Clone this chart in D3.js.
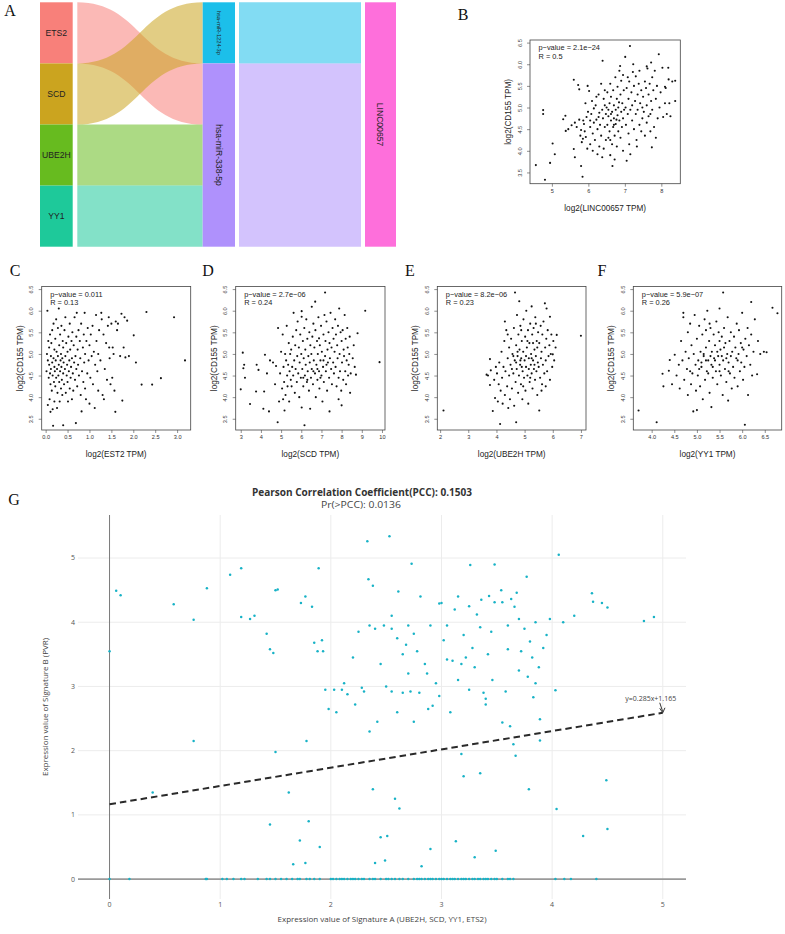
<!DOCTYPE html>
<html><head><meta charset="utf-8">
<script src="https://cdn.jsdelivr.net/npm/d3@7"></script>
<style>body{margin:0;background:#fff;} svg{display:block;}</style>
</head><body>
<svg id="fig" width="785" height="934"></svg>
<script>
// ================= DATA =================
// Panel A (alluvial)
const sankeyGenes = ["ETS2", "SCD", "UBE2H", "YY1"];
const sankeyMirnas = ["hsa-miR-1224-3p", "hsa-miR-338-5p"];
const sankeyLnc = ["LINC00657"];
const geneToMirna = [["ETS2", "hsa-miR-338-5p"], ["SCD", "hsa-miR-1224-3p"], ["UBE2H", "hsa-miR-338-5p"], ["YY1", "hsa-miR-338-5p"]];

// Panels B-F: flat x,y lists (x = gene / lncRNA, y = CD155)
const bLinc00657 = [
4.56,3.67, 4.81,3.33, 4.76,4.94, 4.76,4.85, 5.02,4.17, 5.08,3.92, 4.95,3.72, 5.31,4.73, 5.37,4.81, 5.38,4.46, 5.45,4.5,
5.54,4.59, 5.60,5.64, 5.63,4.65, 5.6,4.04, 5.63,3.85, 5.72,5.52, 5.75,5.42, 5.8,3.65, 5.84,3.4, 5.68,4.55, 5.75,4.72, 5.78,4.35, 5.82,4.2, 5.85,4.28, 5.88,4.62, 5.9,4.45, 5.92,5.1, 5.95,4.78, 5.97,4.05, 5.98,5.5, 5.86,4.7, 5.93,4.32, 5.8,4.48, 5.99,4.9,
6.02,5.38, 6.05,4.55, 6.05,4.15, 6.08,4.85, 6.1,5.15, 6.12,4.4, 6.15,4.65, 6.15,4.98, 6.18,4.25, 6.2,5.05, 6.22,4.72, 6.25,4.5, 6.25,3.92, 6.28,5.3, 6.3,4.88, 6.3,4.1, 6.32,4.6, 6.35,5.55, 6.35,4.35, 6.38,4.95, 6.39,6.08, 6.4,4.75, 6.42,5.2, 6.42,4.05, 6.45,4.55, 6.45,5.4, 6.48,4.85, 6.48,4.25, 6.12,4.0, 6.22,5.25, 6.38,3.85, 6.05,4.7, 6.28,4.78, 6.45,5.05,
6.5,5.0, 6.52,4.6, 6.52,5.35, 6.55,4.3, 6.55,4.8, 6.58,5.1, 6.58,4.45, 6.6,3.9, 6.6,5.55, 6.62,4.7, 6.62,5.25, 6.65,4.9, 6.65,4.15, 6.66,3.65, 6.68,5.4, 6.68,4.55, 6.7,4.75, 6.7,5.05, 6.72,4.35, 6.72,3.8, 6.74,5.7, 6.75,4.95, 6.75,4.62, 6.78,5.2, 6.78,4.1, 6.8,4.82, 6.8,5.48, 6.82,4.45, 6.82,5.0, 6.85,5.85, 6.85,4.7, 6.87,5.96, 6.88,4.3, 6.88,5.3, 6.9,4.9, 6.9,5.62, 6.92,4.55, 6.93,5.1, 6.95,4.0, 6.95,4.75, 6.97,5.4, 6.98,4.95, 6.55,4.95, 6.62,4.85, 6.7,4.6, 6.77,4.72, 6.84,5.12, 6.6,4.25, 6.95,5.75,
7.01,6.17, 7.02,5.0, 7.03,4.6, 7.05,3.77, 7.05,5.45, 7.08,4.85, 7.1,5.2, 7.1,4.4, 7.12,5.6, 7.14,6.42, 7.15,4.95, 7.15,3.92, 7.18,5.35, 7.2,4.7, 7.2,5.05, 7.23,6.0, 7.25,5.5, 7.25,4.5, 7.28,5.15, 7.3,4.85, 7.3,5.72, 7.32,4.25, 7.35,5.3, 7.35,4.95, 7.38,5.55, 7.4,4.6, 7.4,5.85, 7.42,5.1, 7.45,4.45, 7.45,5.4, 7.48,5.0, 7.48,4.75, 7.12,4.15, 7.22,5.82, 7.33,4.1, 7.08,5.7,
7.5,5.25, 7.52,4.9, 7.55,5.6, 7.55,4.35, 7.58,5.45, 7.6,5.05, 7.6,4.65, 7.62,5.9, 7.65,5.3, 7.65,4.8, 7.68,5.55, 7.7,4.45, 7.72,6.04, 7.72,5.15, 7.74,4.08, 7.75,5.7, 7.75,4.95, 7.78,5.4, 7.8,4.55, 7.82,5.85, 7.85,5.2, 7.85,4.3, 7.88,5.5, 7.9,4.75, 7.93,6.23, 7.95,5.0, 7.98,5.35, 7.6,5.95, 7.7,4.85,
8.03,5.92, 8.05,4.78, 8.1,5.1, 8.12,5.45, 8.15,4.85, 8.19,5.92, 8.2,5.65, 8.22,5.1, 8.25,4.8, 8.3,5.6, 8.38,5.62, 8.38,5.15, 8.1,5.48
];
const cEts2 = [
0.02,4.6, 0.03,5.0, 0.04,6.0, 0.05,4.85, 0.05,3.82, 0.06,5.3, 0.07,4.45, 0.08,4.75, 0.08,5.15, 0.09,3.95, 0.1,4.55, 0.1,5.45, 0.11,4.3, 0.11,3.66, 0.12,4.95, 0.12,4.65, 0.13,5.25, 0.14,4.15, 0.15,4.8, 0.15,5.55, 0.16,4.5, 0.16,3.72, 0.17,3.34, 0.18,4.9, 0.18,5.7, 0.19,4.35, 0.2,4.7, 0.2,5.1, 0.2,3.9,
0.21,4.6, 0.22,5.35, 0.22,4.25, 0.23,4.85, 0.24,5.8, 0.24,4.45, 0.25,5.05, 0.26,4.65, 0.26,3.75, 0.27,4.1, 0.28,5.6, 0.28,4.95, 0.29,4.5, 0.3,6.05, 0.3,4.75, 0.31,5.2, 0.31,4.35, 0.32,3.9, 0.33,4.6, 0.33,5.45, 0.34,4.85, 0.35,4.2, 0.35,5.0, 0.36,4.7, 0.36,5.65, 0.37,4.4, 0.38,4.05, 0.38,4.9, 0.39,5.3, 0.4,3.35, 0.4,4.55, 0.4,5.15,
0.41,4.8, 0.42,4.3, 0.43,5.55, 0.44,4.65, 0.45,5.85, 0.45,4.95, 0.46,4.1, 0.47,5.25, 0.48,4.5, 0.49,4.75, 0.5,5.05, 0.5,4.35, 0.51,3.9, 0.52,5.4, 0.53,4.6, 0.54,4.85, 0.55,5.7, 0.55,4.2, 0.56,5.1, 0.57,4.45, 0.58,4.7, 0.59,5.3, 0.6,3.95, 0.6,4.9,
0.61,5.5, 0.62,4.55, 0.63,4.15, 0.64,5.2, 0.65,4.8, 0.66,5.85, 0.67,4.4, 0.68,4.95, 0.69,3.4, 0.7,5.4, 0.7,4.65, 0.71,5.95, 0.72,4.25, 0.73,5.1, 0.74,4.75, 0.75,5.55, 0.76,4.5, 0.78,5.3, 0.79,4.9, 0.8,4.05, 0.81,5.7, 0.82,3.67, 0.83,4.6, 0.85,5.15, 0.86,4.35, 0.87,5.45, 0.88,4.8, 0.89,5.95, 0.9,5.0, 0.9,4.2,
0.92,3.95, 0.93,5.3, 0.95,4.55, 0.96,5.6, 0.98,4.85, 1.0,5.2, 1.0,3.85, 1.02,4.45, 1.03,5.45, 1.05,4.95, 1.07,5.65, 1.08,4.3, 1.1,5.05, 1.12,3.75, 1.13,4.75, 1.15,5.9, 1.16,5.3, 1.18,4.6, 1.2,5.0, 1.2,4.15,
1.22,5.55, 1.25,4.85, 1.27,5.95, 1.28,5.8, 1.3,4.05, 1.32,5.45, 1.33,3.95, 1.35,4.65, 1.38,5.25, 1.4,4.4, 1.42,5.65, 1.45,5.15, 1.46,4.9, 1.48,4.3, 1.5,5.7, 1.52,4.45, 1.55,5.0, 1.57,4.15, 1.59,3.66, 1.6,5.75, 1.53,5.15, 1.44,5.85,
1.63,5.55, 1.65,5.7, 1.7,4.95, 1.73,5.93, 1.75,3.92, 1.78,5.15, 1.8,5.85, 1.82,4.92, 1.86,5.77, 1.9,4.95, 2.01,5.43, 2.06,4.8,
2.19,4.29, 2.3,5.97, 2.43,4.29, 2.63,4.44, 2.93,5.85, 3.18,4.85
];
const dScd = [
3.0,4.18, 3.21,4.45, 3.1,5.03, 3.17,4.75, 3.13,4.67, 3.46,3.84, 3.76,4.13, 3.79,4.75, 3.88,4.63, 4.12,3.73, 4.16,4.13, 4.2,4.98, 4.4,3.67, 4.45,4.85, 4.3,4.55,
4.6,4.8, 4.7,4.3, 4.75,4.72, 4.83,3.42, 4.85,5.6, 4.9,3.9, 4.95,4.55, 5.0,5.05, 5.05,4.2, 5.08,5.45, 5.1,3.95, 5.12,4.7, 5.15,4.35, 5.17,3.69, 5.2,5.0, 5.22,4.05, 5.25,4.85, 5.28,5.65, 5.3,4.5, 5.32,4.25, 5.35,4.75, 5.38,5.25, 5.4,3.9, 5.42,4.6, 5.45,5.0, 5.48,4.4,
5.5,5.1, 5.52,4.25, 5.55,4.7, 5.58,5.4, 5.6,4.5, 5.62,5.95, 5.65,4.85, 5.68,4.1, 5.7,5.2, 5.72,4.65, 5.75,5.55, 5.78,4.35, 5.8,4.95, 5.82,5.75, 5.85,4.55, 5.88,5.15, 5.9,4.0, 5.92,4.8, 5.95,5.45, 5.98,4.45, 6.0,5.0, 6.02,5.99, 6.02,5.86, 6.02,3.76, 6.05,4.65, 6.08,5.3, 6.1,4.25, 6.12,4.9, 6.15,5.6, 6.16,3.35, 6.18,4.5, 6.2,5.1, 6.22,4.75, 6.25,5.8, 6.28,4.35, 6.3,5.35, 6.32,4.6, 6.35,4.95, 6.38,4.15, 6.4,5.5, 6.42,4.8, 6.44,3.73, 6.45,5.2, 6.48,4.45, 6.1,4.45, 6.3,4.4,
6.5,5.0, 6.52,6.09, 6.52,4.65, 6.55,5.4, 6.58,4.3, 6.6,5.7, 6.62,4.85, 6.65,5.15, 6.68,4.55, 6.69,6.21, 6.7,5.55, 6.72,4.0, 6.75,4.75, 6.78,5.3, 6.8,4.4, 6.82,5.0, 6.85,5.85, 6.88,5.36, 6.88,4.6, 6.9,4.2, 6.92,5.2, 6.95,4.85, 6.98,5.65, 7.0,4.5, 7.02,5.05, 7.05,3.9, 7.08,4.7, 7.1,5.45, 7.12,4.35, 7.15,5.9, 7.18,6.42, 7.18,4.95, 7.2,5.3, 7.22,4.6, 7.25,5.75, 7.28,4.15, 7.3,5.1, 7.32,4.8, 7.35,5.5, 7.38,4.45, 7.4,3.67, 7.4,5.25, 7.42,4.9, 7.45,5.95, 7.48,4.65, 6.6,4.6, 6.95,4.45, 7.25,4.75, 6.8,4.65, 7.1,4.85,
7.5,5.15, 7.52,4.3, 7.55,5.6, 7.58,4.8, 7.6,5.35, 7.62,4.55, 7.65,5.05, 7.68,5.8, 7.7,4.7, 7.72,5.45, 7.75,4.25, 7.78,5.2, 7.8,4.9, 7.82,5.65, 7.85,4.45, 7.88,6.05, 7.9,5.0, 7.92,4.6, 7.95,5.5, 7.98,4.15, 8.0,3.81, 8.0,5.3, 8.02,4.8, 8.05,5.55, 8.08,4.4, 8.1,5.1, 8.12,4.95, 8.15,5.9, 8.18,4.6, 8.2,5.35, 8.22,4.3, 8.25,4.85, 8.28,5.6, 8.3,5.15, 8.32,4.5, 8.35,4.75, 8.38,5.0, 8.4,5.4, 8.45,4.55, 8.42,4.1, 7.85,3.95,
8.55,4.9, 8.6,5.2, 8.71,4.52, 8.65,4.7, 8.79,5.48, 9.17,6.0, 9.88,4.81
];
const eUbe2h = [
2.12,3.69, 3.65,4.52, 3.7,4.5, 3.77,4.88, 3.77,4.28, 3.8,4.62, 3.87,3.68, 3.92,4.4, 3.95,3.98, 3.98,4.7,
4.02,4.55, 4.05,3.9, 4.08,4.3, 4.1,4.8, 4.13,3.38, 4.15,4.15, 4.18,5.05, 4.2,4.45, 4.22,3.85, 4.25,4.7, 4.28,5.3, 4.3,4.05, 4.32,4.6, 4.35,5.55, 4.38,4.25, 4.4,4.9, 4.42,3.75, 4.45,5.15, 4.45,4.5, 4.48,3.95, 4.3,5.75, 4.4,5.45,
4.5,4.75, 4.52,5.35, 4.55,4.2, 4.57,5.0, 4.6,4.55, 4.62,5.6, 4.63,3.8, 4.65,4.85, 4.66,6.42, 4.68,4.35, 4.7,3.42, 4.7,5.2, 4.72,4.65, 4.73,5.9, 4.75,4.95, 4.77,4.1, 4.78,5.45, 4.8,4.5, 4.81,6.22, 4.82,5.1, 4.84,4.75, 4.85,5.65, 4.87,4.3, 4.88,4.9, 4.9,5.3, 4.92,3.95, 4.93,4.6, 4.95,5.05, 4.96,5.8, 4.98,4.45, 4.6,4.95, 4.7,4.8, 4.85,4.85, 4.9,4.7, 4.55,4.65, 4.75,5.05, 4.88,5.55, 4.95,4.25,
5.0,4.85, 5.02,5.4, 5.03,4.15, 5.05,4.7, 5.06,6.0, 5.08,5.15, 5.1,4.5, 5.12,5.55, 5.13,3.85, 5.15,4.9, 5.17,5.25, 5.18,4.35, 5.2,5.7, 5.22,4.75, 5.23,5.0, 5.25,4.55, 5.27,5.45, 5.28,4.2, 5.3,4.85, 5.32,5.6, 5.33,4.65, 5.35,5.1, 5.37,4.4, 5.38,5.85, 5.4,4.95, 5.42,4.6, 5.43,5.3, 5.45,4.05, 5.47,4.8, 5.48,5.5, 5.05,4.95, 5.15,4.65, 5.25,4.9, 5.35,4.75, 5.45,5.15, 5.2,4.45, 5.1,5.3, 5.3,5.25, 5.4,5.7, 5.25,6.1,
5.5,4.7, 5.52,3.69, 5.52,5.25, 5.55,4.45, 5.57,5.65, 5.58,4.9, 5.6,5.05, 5.62,4.3, 5.63,5.45, 5.65,4.75, 5.67,5.75, 5.7,4.55, 5.72,6.17, 5.73,5.15, 5.75,4.85, 5.77,5.35, 5.78,6.05, 5.8,4.6, 5.82,5.55, 5.85,4.95, 5.88,5.2, 5.9,5.86, 5.9,4.4, 5.93,5.0, 5.95,5.45, 5.98,4.7, 6.0,4.99, 6.02,5.3, 6.05,4.85, 6.1,5.15, 6.14,5.44, 5.6,4.15, 5.75,4.25,
7.0,5.42
];
const fYy1 = [
3.71,3.69, 4.11,3.42, 4.24,4.54, 4.26,4.25, 4.38,4.61, 4.4,4.86, 4.51,4.98, 4.55,4.5, 4.45,4.3,
4.6,4.75, 4.62,4.2, 4.65,5.3, 4.68,4.85, 4.7,5.85, 4.72,4.4, 4.75,5.05, 4.78,4.65, 4.8,5.5, 4.8,4.05, 4.82,4.9, 4.85,5.7, 4.87,4.3, 4.88,5.2, 4.9,4.55, 4.92,3.67, 4.93,5.0, 4.95,5.9, 4.97,4.75, 4.98,4.15, 4.7,5.95, 4.85,4.6,
5.0,3.7, 5.0,5.35, 5.02,4.5, 5.03,4.85, 5.05,5.65, 5.07,4.25, 5.08,5.05, 5.1,4.7, 5.12,5.45, 5.13,3.95, 5.15,4.95, 5.17,5.8, 5.18,4.4, 5.2,5.15, 5.22,4.6, 5.23,6.0, 5.25,4.85, 5.27,5.3, 5.28,4.1, 5.3,5.6, 5.32,3.77, 5.32,4.75, 5.33,5.05, 5.35,4.45, 5.37,5.45, 5.38,4.9, 5.05,4.65, 5.15,5.0, 5.25,4.55, 5.35,4.7, 5.1,4.8, 5.2,4.85, 5.3,4.95, 5.2,5.55, 5.28,5.7,
5.4,5.2, 5.42,4.6, 5.43,5.75, 5.45,4.3, 5.47,4.95, 5.48,5.5, 5.5,4.75, 5.5,6.05, 5.52,5.1, 5.53,4.5, 5.55,5.4, 5.57,4.05, 5.58,6.42, 5.58,4.85, 5.6,5.6, 5.62,4.65, 5.63,5.25, 5.65,4.35, 5.67,5.0, 5.68,5.85, 5.69,3.92, 5.7,4.8, 5.72,5.3, 5.73,4.55, 5.75,5.5, 5.77,4.2, 5.78,5.05, 5.8,4.7, 5.45,5.05, 5.55,4.95, 5.65,4.9, 5.75,4.95, 5.5,4.6, 5.6,5.15, 5.7,4.6, 5.4,4.85, 5.5,5.3,
5.82,5.4, 5.83,4.45, 5.85,5.15, 5.87,4.9, 5.88,5.7, 5.9,4.25, 5.92,5.0, 5.93,5.55, 5.95,4.6, 5.97,5.25, 5.98,4.8, 6.0,5.95, 6.02,4.4, 6.03,5.1, 6.05,4.7, 6.06,3.36, 6.07,5.35, 6.1,4.95, 6.12,5.6, 6.13,4.05, 6.15,5.2, 6.18,4.75, 6.2,6.2, 6.2,5.45, 6.22,4.5, 6.25,5.05, 6.28,5.8, 5.9,4.85, 6.0,5.15,
6.33,4.53, 6.35,5.3, 6.4,5.0, 6.48,5.05, 6.54,5.04, 6.67,6.07, 6.78,5.94
];

const bStats = ["p\u2212value = 2.1e\u221224", "R = 0.5"];
const cStats = ["p\u2212value = 0.011", "R = 0.13"];
const dStats = ["p\u2212value = 2.7e\u221206", "R = 0.24"];
const eStats = ["p\u2212value = 8.2e\u221206", "R = 0.23"];
const fStats = ["p\u2212value = 5.9e\u221207", "R = 0.26"];
const cd155Ticks = [3.5, 4.0, 4.5, 5.0, 5.5, 6.0, 6.5];
const bXTicks = [5, 6, 7, 8];
const cXTicks = [0.0, 0.5, 1.0, 1.5, 2.0, 2.5, 3.0];
const dXTicks = [3, 4, 5, 6, 7, 8, 9, 10];
const eXTicks = [2, 3, 4, 5, 6, 7];
const fXTicks = [4.0, 4.5, 5.0, 5.5, 6.0, 6.5];

// Panel G
const gTitle = "Pearson Correlation Coefficient(PCC): 0.1503";
const gSubtitle = "Pr(>PCC): 0.0136";
const gXTitle = "Expression value of Signature A (UBE2H, SCD, YY1, ETS2)";
const gYTitle = "Expression value of Signature B (PVR)";
const gSlope = 0.285, gIntercept = 1.165;
const gFitLabel = "y=0.285x+1.165";
const gTicks = [0, 1, 2, 3, 4, 5];
const gPoints = [
0,3.55, 0.06,4.49, 0.1,4.42, 0.39,1.35, 0.58,4.28, 0.76,4.04, 0.76,2.15, 0.88,4.53, 1.09,4.74, 1.19,4.84, 1.19,4.08, 1.27,4.05, 1.31,4.10, 1.42,3.82, 1.45,3.58, 1.48,3.52, 1.5,4.5, 1.5,1.98, 1.45,0.85,
1.52,4.51, 1.62,1.35, 1.66,0.23, 1.72,0.6, 1.73,4.30, 1.77,4.40, 1.77,0.25, 1.78,2.15, 1.80,0.9, 1.83,4.24, 1.85,3.68, 1.88,3.55, 1.89,4.84, 1.90,0.5, 1.92,3.72, 1.95,2.95, 1.93,3.55, 1.98,2.65,
2.03,2.95, 2.05,2.6, 2.1,2.95, 2.12,3.05, 2.15,2.88, 2.2,3.45, 2.22,2.72, 2.25,3.85, 2.3,2.92, 2.33,5.26, 2.34,4.67, 2.38,4.57, 2.35,3.95, 2.4,3.9, 2.42,2.45, 2.38,1.4, 2.45,3.35, 2.5,3.0, 2.48,3.95, 2.4,0.25, 2.49,0.29, 2.51,0.67, 2.45,0.65, 2.35,2.3, 2.28,2.98, 2.53,5.34, 2.55,4.1, 2.55,3.9, 2.58,1.25, 2.6,2.6, 2.62,1.1,
2.6,3.75, 2.61,4.48, 2.65,2.9, 2.68,3.65, 2.7,3.95, 2.72,2.92, 2.73,4.91, 2.75,3.82, 2.78,3.55, 2.8,2.9, 2.81,4.40, 2.82,0.2, 2.85,3.35, 2.88,2.65, 2.9,0.47, 2.92,2.7, 2.95,3.05, 2.98,4.29, 2.98,2.85, 3.0,4.3, 2.9,3.95, 2.7,3.2, 2.65,3.5, 2.55,2.92, 2.87,3.2, 2.75,2.45,
3.02,3.72, 3.05,3.42, 3.08,2.6, 3.1,3.4, 3.12,4.2, 3.13,0.59, 3.15,3.1, 3.18,3.35, 3.2,3.8, 3.22,3.45, 3.25,2.95, 3.26,4.89, 3.28,3.6, 3.3,0.34, 3.3,3.3, 3.32,4.12, 3.35,3.92, 3.36,4.35, 3.38,2.9, 3.4,2.81, 3.4,2.72, 3.42,3.5, 3.43,4.41, 3.45,3.85, 3.48,4.90, 3.48,4.31, 3.49,0.44, 3.46,3.1, 3.2,1.6, 3.18,1.95, 3.35,1.65, 3.15,4.4, 3.05,3.95, 3.25,4.25,
3.54,4.50, 3.55,4.31, 3.55,2.44, 3.58,2.92, 3.6,3.58, 3.62,2.38, 3.63,4.36, 3.65,2.10, 3.66,4.24, 3.67,1.92, 3.68,4.46, 3.7,3.25, 3.72,3.55, 3.75,3.9, 3.77,4.71, 3.78,3.15, 3.79,1.40, 3.8,3.7, 3.82,3.45, 3.83,2.83, 3.85,4.0, 3.88,3.3, 3.89,2.49, 3.89,2.16, 3.92,3.6, 3.95,3.8, 3.98,4.05, 3.6,3.95, 3.7,4.05, 3.85,3.05,
4.03,2.94, 4.04,1.09, 4.06,5.05, 4.1,4.0, 4.28,0.67, 4.36,4.45, 4.37,4.32, 4.45,4.3, 4.49,1.54, 4.50,4.23, 4.50,0.78, 4.83,4.02, 4.92,4.08, 4.2,4.1
];
const gZeroRowX = [0, 0.18, 0.87, 0.88, 1.02, 1.06, 1.12, 1.19, 1.22, 1.34, 1.42, 1.45, 1.5, 1.55, 1.6, 1.65, 1.7, 1.72, 1.78, 1.81, 1.85, 1.9, 2.0, 2.02, 2.05, 2.08, 2.1, 2.12, 2.15, 2.18, 2.2, 2.22, 2.25, 2.28, 2.3, 2.35, 2.38, 2.4, 2.45, 2.5, 2.52, 2.55, 2.58, 2.62, 2.65, 2.7, 2.75, 2.78, 2.8, 2.82, 2.85, 2.88, 2.9, 2.92, 2.95, 2.98, 3.0, 3.02, 3.05, 3.08, 3.1, 3.12, 3.15, 3.18, 3.2, 3.22, 3.25, 3.28, 3.3, 3.33, 3.35, 3.38, 3.4, 3.42, 3.45, 3.48, 3.5, 3.55, 3.6, 3.62, 3.65, 4.03, 4.11, 4.17, 4.40];

// ================= DRAWING =================
const svg = d3.select("#fig");
svg.append("rect").attr("width", 785).attr("height", 934).attr("fill", "#fff");
const SANS = "'Liberation Sans', Arial, Helvetica, sans-serif";
const SERIF = "'Liberation Serif', 'Times New Roman', serif";
const PLOTLY = "'Open Sans', 'DejaVu Sans', sans-serif";

function pairs(flat) { const o = []; for (let i = 0; i < flat.length; i += 2) o.push([flat[i], flat[i + 1]]); return o; }

// panel letters
const panelLetters = ["A", "B", "C", "D", "E", "F", "G"];
const letterPos = { A: [10, 16], B: [463, 20], C: [15, 276], D: [208, 276], E: [410, 276], F: [602, 276], G: [14, 505] };
panelLetters.forEach(L => {
  svg.append("text").attr("x", letterPos[L][0]).attr("y", letterPos[L][1]).attr("text-anchor", "middle")
    .attr("font-family", SERIF).attr("font-size", 16).attr("fill", "#111").text(L);
});

// ---------- Panel A ----------
(function () {
  const colors = { "ETS2": "#f8807a", "SCD": "#cba41f", "UBE2H": "#67bb1f", "YY1": "#1ec99a",
    "hsa-miR-1224-3p": "#1cbfea", "hsa-miR-338-5p": "#af91fc", "LINC00657": "#fe6fdb" };
  const g = svg.append("g");
  const total = sankeyGenes.length;
  const yU = d3.scaleLinear().domain([0, total]).range([2.3, 246.7]);
  const cols = [[40, 72.7], [202.7, 235], [365, 396]];
  const flows = [[77.3, 202.7], [239, 361]];
  const mw = sankeyMirnas.map(m => geneToMirna.filter(l => l[1] === m).length);
  const mStart = {}; let acc = 0;
  sankeyMirnas.forEach((m, i) => { mStart[m] = acc; acc += mw[i]; });
  const mFill = {}; sankeyMirnas.forEach(m => mFill[m] = 0);
  function ribbon(x0, x1, a0, a1, b0, b1) {
    const xm = (x0 + x1) / 2;
    const p = d3.path();
    p.moveTo(x0, a0); p.bezierCurveTo(xm, a0, xm, b0, x1, b0); p.lineTo(x1, b1);
    p.bezierCurveTo(xm, b1, xm, a1, x0, a1); p.closePath();
    return p.toString();
  }
  geneToMirna.forEach(([gene, mir]) => {
    const i = sankeyGenes.indexOf(gene);
    const t0 = mStart[mir] + mFill[mir]; mFill[mir] += 1;
    g.append("path").attr("d", ribbon(flows[0][0], flows[0][1], yU(i), yU(i + 1), yU(t0), yU(t0 + 1)))
      .attr("fill", colors[gene]).attr("fill-opacity", 0.55);
  });
  sankeyMirnas.forEach((m, i) => {
    g.append("path").attr("d", ribbon(flows[1][0], flows[1][1], yU(mStart[m]), yU(mStart[m] + mw[i]), yU(mStart[m]), yU(mStart[m] + mw[i])))
      .attr("fill", colors[m]).attr("fill-opacity", 0.55);
  });
  sankeyGenes.forEach((gname, i) => {
    g.append("rect").attr("x", cols[0][0]).attr("y", yU(i)).attr("width", cols[0][1] - cols[0][0]).attr("height", yU(i + 1) - yU(i)).attr("fill", colors[gname]);
    g.append("text").attr("x", (cols[0][0] + cols[0][1]) / 2).attr("y", (yU(i) + yU(i + 1)) / 2).attr("dy", "0.35em")
      .attr("text-anchor", "middle").attr("font-family", SANS).attr("font-size", 8.6).attr("fill", "#222").text(gname);
  });
  sankeyMirnas.forEach((m, i) => {
    const y0 = yU(mStart[m]), y1 = yU(mStart[m] + mw[i]);
    g.append("rect").attr("x", cols[1][0]).attr("y", y0).attr("width", cols[1][1] - cols[1][0]).attr("height", y1 - y0).attr("fill", colors[m]);
    const cx = (cols[1][0] + cols[1][1]) / 2, cy = (y0 + y1) / 2;
    const t = g.append("text").attr("transform", `translate(${cx},${cy}) rotate(90)`).attr("dy", "0.35em")
      .attr("text-anchor", "middle").attr("font-family", SANS).attr("fill", "#222").text(m);
    if (mw[i] === 1) t.attr("font-size", 5.6).attr("textLength", 44).attr("lengthAdjust", "spacingAndGlyphs");
    else t.attr("font-size", 8.6);
  });
  sankeyLnc.forEach(l => {
    const y0 = yU(0), y1 = yU(total);
    g.append("rect").attr("x", cols[2][0]).attr("y", y0).attr("width", cols[2][1] - cols[2][0]).attr("height", y1 - y0).attr("fill", colors[l]);
    g.append("text").attr("transform", `translate(${(cols[2][0] + cols[2][1]) / 2},${(y0 + y1) / 2}) rotate(90)`).attr("dy", "0.35em")
      .attr("text-anchor", "middle").attr("font-family", SANS).attr("font-size", 8.6).attr("fill", "#222").text(l);
  });
})();

// ---------- Panels B-F (R base scatter plots) ----------
function rScatter(o) {
  const g = svg.append("g");
  const x = d3.scaleLinear().domain(o.xDomain).range([o.box[0], o.box[1]]);
  const y = d3.scaleLinear().domain(o.yDomain).range([o.box[3], o.box[2]]);
  g.append("g").selectAll("circle").data(pairs(o.data)).join("circle")
    .attr("cx", d => x(d[0])).attr("cy", d => y(d[1])).attr("r", 1.05).attr("fill", "#111");
  g.append("rect").attr("x", o.box[0]).attr("y", o.box[2]).attr("width", o.box[1] - o.box[0]).attr("height", o.box[3] - o.box[2])
    .attr("fill", "none").attr("stroke", "#444").attr("stroke-width", 0.8);
  const xa = d3.axisBottom(x).tickValues(o.xTicks).tickFormat(d3.format(o.xFmt)).tickSize(3).tickPadding(2);
  const gx = g.append("g").attr("transform", `translate(0,${o.box[3]})`).call(xa);
  gx.select(".domain").remove();
  gx.selectAll("line").attr("stroke", "#444").attr("stroke-width", 0.6);
  gx.selectAll("text").attr("font-family", SANS).attr("font-size", 5.6).attr("fill", "#333");
  const ya = d3.axisLeft(y).tickValues(cd155Ticks).tickFormat(d3.format(".1f")).tickSize(3);
  const gy = g.append("g").attr("transform", `translate(${o.box[0]},0)`).call(ya);
  gy.select(".domain").remove();
  gy.selectAll("line").attr("stroke", "#444").attr("stroke-width", 0.6);
  gy.selectAll("text").attr("x", null).attr("dy", null)
    .attr("transform", "translate(-10.5,0) rotate(-90)").attr("text-anchor", "middle").attr("dominant-baseline", "central")
    .attr("font-family", SANS).attr("font-size", 5.6).attr("fill", "#333");
  const cx = (o.box[0] + o.box[1]) / 2, cy = (o.box[2] + o.box[3]) / 2;
  g.append("text").attr("x", cx).attr("y", o.box[3] + 24).attr("dy", "0.35em").attr("text-anchor", "middle")
    .attr("font-family", SANS).attr("font-size", 8.2).attr("fill", "#222").text(o.xTitle);
  g.append("text").attr("transform", `translate(${o.box[0] - 22},${cy}) rotate(-90)`).attr("dy", "0.35em").attr("text-anchor", "middle")
    .attr("font-family", SANS).attr("font-size", 8.2).attr("fill", "#222").text("log2(CD155 TPM)");
  o.stats.forEach((s, i) => {
    g.append("text").attr("x", o.box[0] + 8.5).attr("y", o.box[2] + 7.8 + i * 8.4).attr("dy", "0.35em")
      .attr("font-family", SANS).attr("font-size", 7.4).attr("fill", "#222").text(s);
  });
}
const yDom = [3.24, 6.56];
rScatter({ data: bLinc00657, box: [530, 680.3, 40, 183.7], xDomain: [4.4, 8.52], yDomain: yDom, xTicks: bXTicks, xFmt: "d", xTitle: "log2(LINC00657 TPM)", stats: bStats });
rScatter({ data: cEts2, box: [41.7, 190.7, 286.5, 430], xDomain: [-0.09, 3.31], yDomain: yDom, xTicks: cXTicks, xFmt: ".1f", xTitle: "log2(EST2 TPM)", stats: cStats });
rScatter({ data: dScd, box: [235.7, 385, 286.5, 430], xDomain: [2.75, 10.15], yDomain: yDom, xTicks: dXTicks, xFmt: "d", xTitle: "log2(SCD TPM)", stats: dStats });
rScatter({ data: eUbe2h, box: [437.3, 586, 286.5, 430], xDomain: [1.9, 7.18], yDomain: yDom, xTicks: eXTicks, xFmt: "d", xTitle: "log2(UBE2H TPM)", stats: eStats });
rScatter({ data: fYy1, box: [633.3, 781.7, 286.5, 430], xDomain: [3.594, 6.874], yDomain: yDom, xTicks: fXTicks, xFmt: ".1f", xTitle: "log2(YY1 TPM)", stats: fStats });

// ---------- Panel G (plotly-like) ----------
(function () {
  const L = 78, R = 686, T = 515, B = 899;
  const x = d3.scaleLinear().domain([-0.285, 5.21]).range([L, R]);
  const y = d3.scaleLinear().domain([-0.31, 5.67]).range([B, T]);
  const g = svg.append("g");
  gTicks.filter(v => v !== 0).forEach(v => {
    g.append("line").attr("x1", x(v)).attr("x2", x(v)).attr("y1", T).attr("y2", B).attr("stroke", "#ececec").attr("stroke-width", 1);
    g.append("line").attr("x1", L).attr("x2", R).attr("y1", y(v)).attr("y2", y(v)).attr("stroke", "#ececec").attr("stroke-width", 1);
  });
  g.append("line").attr("x1", x(0)).attr("x2", x(0)).attr("y1", T).attr("y2", B).attr("stroke", "#7a7a7a").attr("stroke-width", 1);
  g.append("line").attr("x1", L).attr("x2", R).attr("y1", y(0)).attr("y2", y(0)).attr("stroke", "#9a9a9a").attr("stroke-width", 1.8);
  gTicks.forEach(v => {
    g.append("text").attr("x", x(v)).attr("y", 905).attr("dy", "0.35em").attr("text-anchor", "middle")
      .attr("font-family", PLOTLY).attr("font-size", 7).attr("fill", "#555").text(v);
    g.append("text").attr("x", L - 3).attr("y", y(v)).attr("dy", "0.35em").attr("text-anchor", "end")
      .attr("font-family", PLOTLY).attr("font-size", 7).attr("fill", "#555").text(v);
  });
  const pts = pairs(gPoints).concat(gZeroRowX.map(v => [v, 0]));
  g.append("g").selectAll("circle").data(pts).join("circle")
    .attr("cx", d => x(d[0])).attr("cy", d => y(d[1])).attr("r", 1.25).attr("fill", "#17b2c6");
  g.append("line").attr("x1", x(0)).attr("y1", y(gIntercept)).attr("x2", x(5)).attr("y2", y(gIntercept + gSlope * 5))
    .attr("stroke", "#2a2a2a").attr("stroke-width", 2).attr("stroke-dasharray", "6.5,4");
  const ax = x(5), ay = y(gIntercept + gSlope * 5);
  g.append("text").attr("x", ax - 12).attr("y", ay - 14).attr("dy", "0.35em").attr("text-anchor", "middle")
    .attr("font-family", PLOTLY).attr("font-size", 7).attr("fill", "#444").text(gFitLabel);
  g.append("line").attr("x1", ax - 3).attr("y1", ay - 10).attr("x2", ax).attr("y2", ay - 1)
    .attr("stroke", "#333").attr("stroke-width", 1);
  g.append("path").attr("d", `M${ax - 3},${ay - 4.5}L${ax},${ay}L${ax + 2.2},${ay - 5}`)
    .attr("fill", "none").attr("stroke", "#333").attr("stroke-width", 1);
  svg.append("text").attr("x", 362).attr("y", 492).attr("dy", "0.35em").attr("text-anchor", "middle")
    .attr("font-family", PLOTLY).attr("font-weight", "bold").attr("font-size", 10).attr("fill", "#333")
    .attr("textLength", 220).attr("lengthAdjust", "spacingAndGlyphs").text(gTitle);
  svg.append("text").attr("x", 361).attr("y", 504.5).attr("dy", "0.35em").attr("text-anchor", "middle")
    .attr("font-family", PLOTLY).attr("font-size", 9).attr("fill", "#444")
    .attr("textLength", 80).attr("lengthAdjust", "spacingAndGlyphs").text(gSubtitle);
  svg.append("text").attr("x", 382).attr("y", 919).attr("dy", "0.35em").attr("text-anchor", "middle")
    .attr("font-family", PLOTLY).attr("font-size", 8).attr("fill", "#444")
    .attr("textLength", 209).attr("lengthAdjust", "spacingAndGlyphs").text(gXTitle);
  svg.append("text").attr("transform", `translate(45,${(T + B) / 2}) rotate(-90)`).attr("dy", "0.35em").attr("text-anchor", "middle")
    .attr("font-family", PLOTLY).attr("font-size", 8).attr("fill", "#444")
    .attr("textLength", 138).attr("lengthAdjust", "spacingAndGlyphs").text(gYTitle);
})();
</script>
</body></html>
